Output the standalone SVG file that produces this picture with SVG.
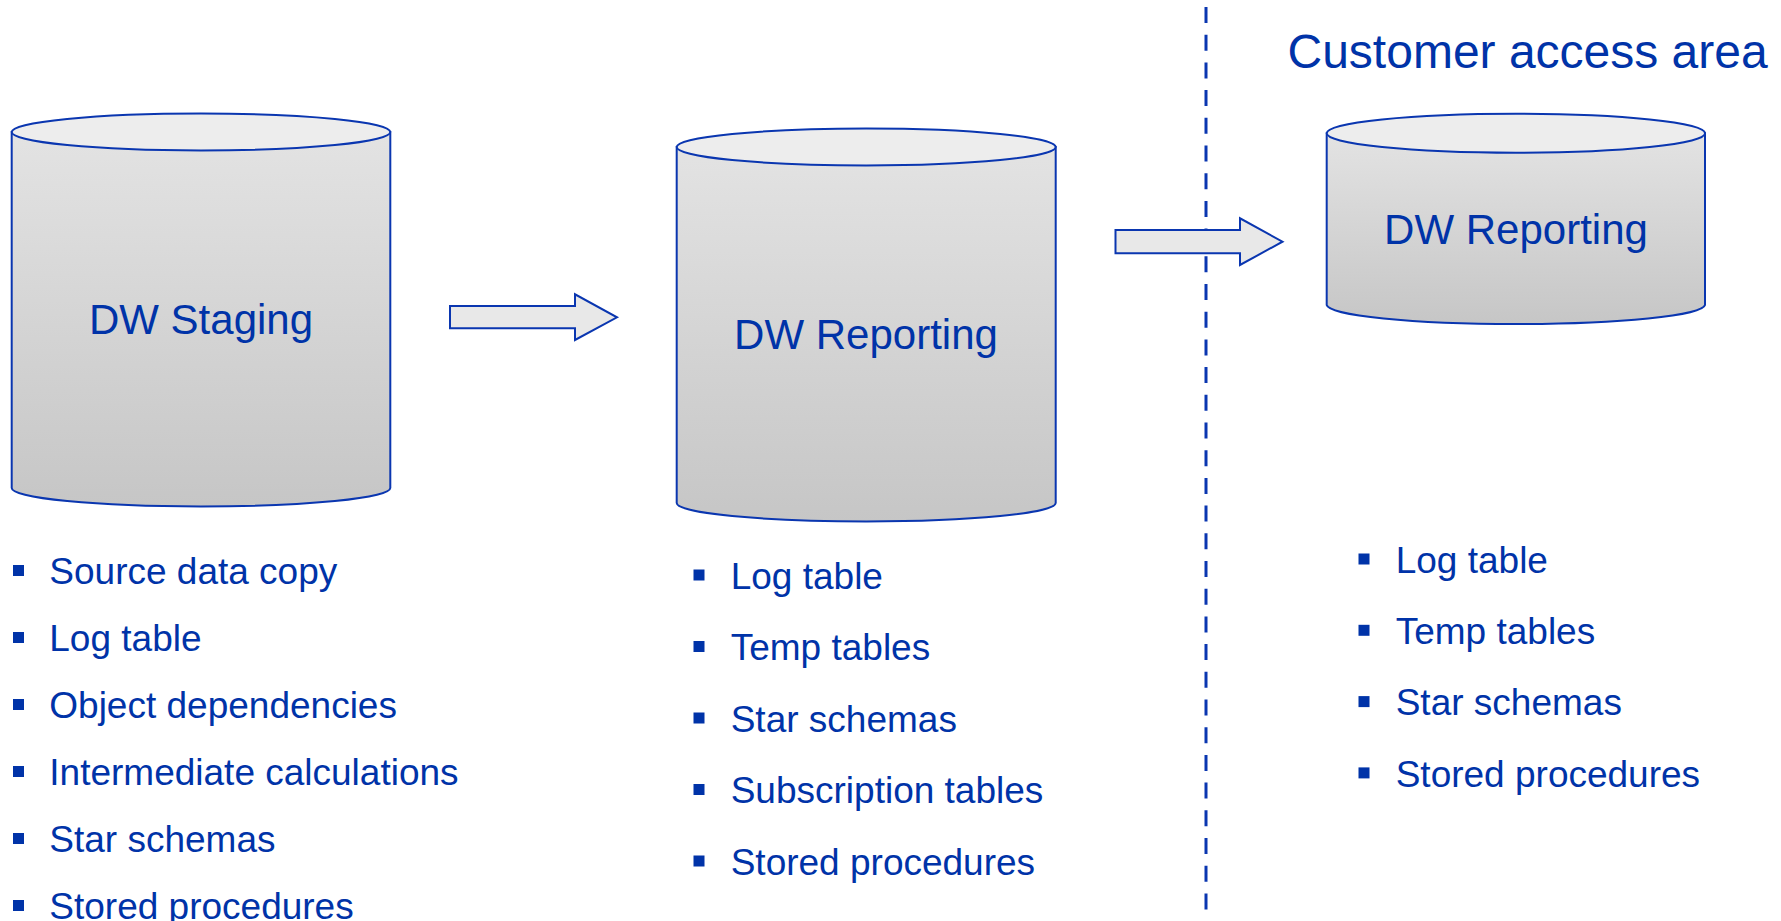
<svg xmlns="http://www.w3.org/2000/svg" width="1781" height="921" viewBox="0 0 1781 921">
<defs>
<linearGradient id="body" x1="0" y1="0" x2="0" y2="1">
<stop offset="0" stop-color="#e3e3e3"/>
<stop offset="1" stop-color="#c6c6c6"/>
</linearGradient>
<style>
.cyl{fill:url(#body);stroke:#0a36b0;stroke-width:2}
.lid{fill:#ededed;stroke:#0a36b0;stroke-width:2}
.arrow{fill:#e8e8e8;stroke:#0a36b0;stroke-width:2;stroke-linejoin:miter}
.t{font-family:"Liberation Sans",Arial,sans-serif;fill:#0033a8}
.big{font-size:42px;text-anchor:middle}
.li{font-size:37px}
.bul{fill:#0033a8}
.div{stroke:#0a36b0;stroke-width:3;stroke-dasharray:16 11.7;fill:none}
</style>
</defs>
<rect width="1781" height="921" fill="#ffffff"/>

<g id="connectors">
<line class="div" x1="1206" y1="7" x2="1206" y2="921"/>
<polygon class="arrow" points="450,306 575,306 575,294.3 617,317.3 575,340 575,328.3 450,328.3"/>
<polygon class="arrow" points="1115.5,230 1240,230 1240,218.3 1282.5,241.7 1240,265 1240,253.3 1115.5,253.3"/>
</g>

<g id="dw-staging">
<path class="cyl" d="M11.7,132 L11.7,488 A189.3,18.5 0 0 0 390.3,488 L390.3,132 Z"/>
<ellipse class="lid" cx="201" cy="132" rx="189.3" ry="18.5"/>
<text class="t big" x="201" y="334">DW Staging</text>
</g>

<g id="dw-reporting">
<path class="cyl" d="M676.7,147 L676.7,503 A189.5,18.5 0 0 0 1055.7,503 L1055.7,147 Z"/>
<ellipse class="lid" cx="866.2" cy="147" rx="189.5" ry="18.5"/>
<text class="t big" x="866" y="349.3">DW Reporting</text>
</g>

<g id="customer-area">
<text class="t" x="1287.5" y="67.7" font-size="48">Customer access area</text>
</g>

<g id="dw-reporting-customer">
<path class="cyl" d="M1326.7,133.3 L1326.7,305 A189.2,19.5 0 0 0 1705,305 L1705,133.3 Z"/>
<ellipse class="lid" cx="1515.9" cy="133.3" rx="189.2" ry="19.5"/>
<text class="t big" x="1516" y="244.3">DW Reporting</text>
</g>

<g id="staging-list">
<rect class="bul" x="13" y="565" width="11" height="11"/>
<text class="t li" x="49.3" y="583.5">Source data copy</text>
<rect class="bul" x="13" y="632" width="11" height="11"/>
<text class="t li" x="49.3" y="650.5">Log table</text>
<rect class="bul" x="13" y="699" width="11" height="11"/>
<text class="t li" x="49.3" y="717.5">Object dependencies</text>
<rect class="bul" x="13" y="766" width="11" height="11"/>
<text class="t li" x="49.3" y="784.5">Intermediate calculations</text>
<rect class="bul" x="13" y="833" width="11" height="11"/>
<text class="t li" x="49.3" y="851.5">Star schemas</text>
<rect class="bul" x="13" y="900" width="11" height="11"/>
<text class="t li" x="49.3" y="918.5">Stored procedures</text>
</g>

<g id="reporting-list">
<rect class="bul" x="693.5" y="569.5" width="11" height="11"/>
<text class="t li" x="730.7" y="588.5">Log table</text>
<rect class="bul" x="693.5" y="641" width="11" height="11"/>
<text class="t li" x="730.7" y="660">Temp tables</text>
<rect class="bul" x="693.5" y="712.5" width="11" height="11"/>
<text class="t li" x="730.7" y="731.5">Star schemas</text>
<rect class="bul" x="693.5" y="784" width="11" height="11"/>
<text class="t li" x="730.7" y="803">Subscription tables</text>
<rect class="bul" x="693.5" y="855.5" width="11" height="11"/>
<text class="t li" x="730.7" y="874.5">Stored procedures</text>
</g>

<g id="customer-list">
<rect class="bul" x="1358.5" y="553.5" width="11" height="11"/>
<text class="t li" x="1395.7" y="572.7">Log table</text>
<rect class="bul" x="1358.5" y="624.8" width="11" height="11"/>
<text class="t li" x="1395.7" y="644">Temp tables</text>
<rect class="bul" x="1358.5" y="696.1" width="11" height="11"/>
<text class="t li" x="1395.7" y="715.3">Star schemas</text>
<rect class="bul" x="1358.5" y="767.4" width="11" height="11"/>
<text class="t li" x="1395.7" y="786.6">Stored procedures</text>
</g>
</svg>
